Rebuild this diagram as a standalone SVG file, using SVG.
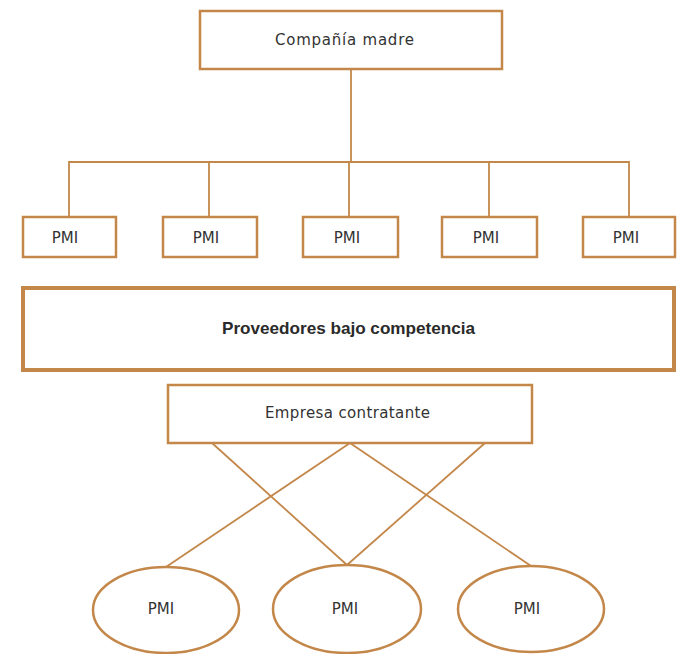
<svg xmlns="http://www.w3.org/2000/svg" width="677" height="654" viewBox="0 0 677 654">
<style>
.bx{fill:#ffffff;stroke:#c3874a;stroke-width:2.5}
.big{fill:#ffffff;stroke:#c3874a;stroke-width:4}
.el{fill:#ffffff;stroke:#c3874a;stroke-width:2.5}
.ln{fill:none;stroke:#c3874a;stroke-width:1.8}
.t{font-family:"DejaVu Sans","Liberation Sans",Arial,sans-serif;font-size:15px;fill:#333333}
.tb{font-family:"Liberation Sans",Arial,sans-serif;font-size:17px;font-weight:bold;fill:#2a2a2a}
</style>
<rect width="677" height="654" fill="#ffffff"/>
<g id="connectors">
<line class="ln" x1="351" y1="69" x2="351" y2="162"/>
<polyline class="ln" points="69,217 69,162 629,162 629,217"/>
<line class="ln" x1="209" y1="162" x2="209" y2="217"/>
<line class="ln" x1="349" y1="162" x2="349" y2="217"/>
<line class="ln" x1="489" y1="162" x2="489" y2="217"/>
<line class="ln" x1="212" y1="443" x2="347" y2="565"/>
<line class="ln" x1="350" y1="443" x2="166" y2="567"/>
<line class="ln" x1="350" y1="443" x2="531" y2="566"/>
<line class="ln" x1="485" y1="443" x2="347" y2="565"/>
</g>
<g id="compania-madre">
<rect class="bx" x="200" y="11" width="302" height="58"/>
<text class="t" x="275" y="45" textLength="139" lengthAdjust="spacing">Compañía madre</text>
</g>
<g id="pmi-1">
<rect class="bx" x="23" y="217" width="93" height="40"/>
<text class="t" x="65" y="243" text-anchor="middle">PMI</text>
</g>
<g id="pmi-2">
<rect class="bx" x="163" y="217" width="94" height="40"/>
<text class="t" x="206" y="243" text-anchor="middle">PMI</text>
</g>
<g id="pmi-3">
<rect class="bx" x="303" y="217" width="95" height="40"/>
<text class="t" x="347" y="243" text-anchor="middle">PMI</text>
</g>
<g id="pmi-4">
<rect class="bx" x="442" y="217" width="95" height="40"/>
<text class="t" x="486" y="243" text-anchor="middle">PMI</text>
</g>
<g id="pmi-5">
<rect class="bx" x="583" y="217" width="92" height="40"/>
<text class="t" x="626" y="243" text-anchor="middle">PMI</text>
</g>
<g id="proveedores">
<rect class="big" x="23" y="288" width="651" height="82"/>
<text class="tb" x="222" y="334" textLength="253" lengthAdjust="spacingAndGlyphs">Proveedores bajo competencia</text>
</g>
<g id="empresa-contratante">
<rect class="bx" x="168" y="385" width="364" height="58"/>
<text class="t" x="265" y="418" textLength="165" lengthAdjust="spacing">Empresa contratante</text>
</g>
<g id="pmi-e1">
<ellipse class="el" cx="166" cy="610" rx="73" ry="43"/>
<text class="t" x="161" y="614" text-anchor="middle">PMI</text>
</g>
<g id="pmi-e2">
<ellipse class="el" cx="347" cy="609" rx="74" ry="44"/>
<text class="t" x="345" y="614" text-anchor="middle">PMI</text>
</g>
<g id="pmi-e3">
<ellipse class="el" cx="531" cy="609" rx="73" ry="43"/>
<text class="t" x="527" y="614" text-anchor="middle">PMI</text>
</g>
</svg>
